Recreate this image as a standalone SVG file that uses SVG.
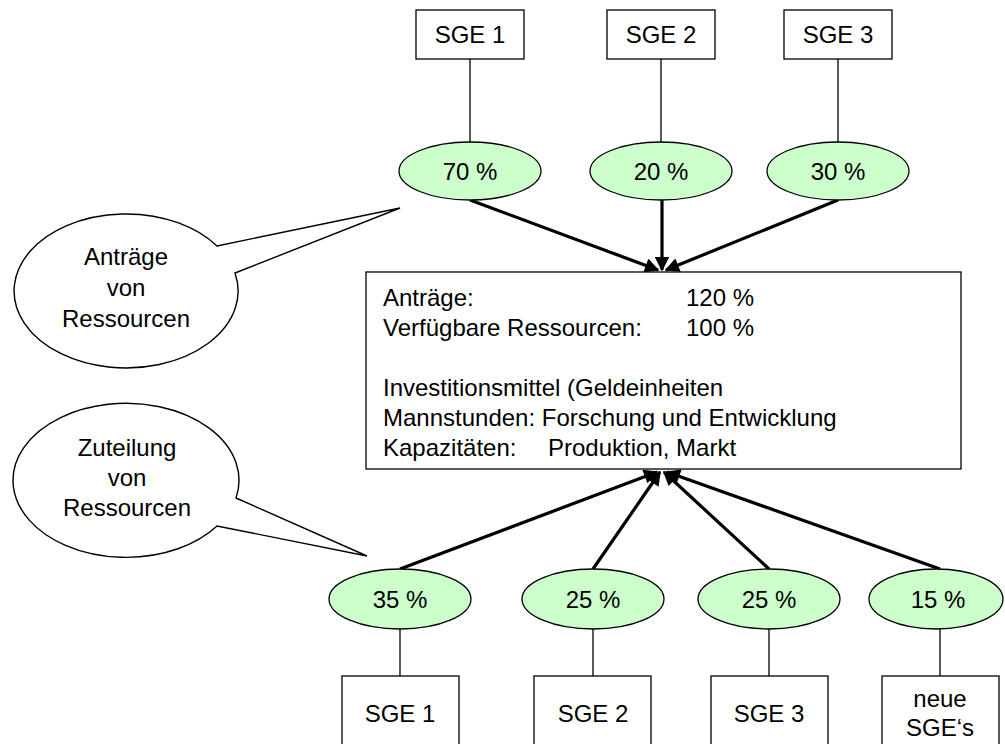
<svg xmlns="http://www.w3.org/2000/svg" width="1005" height="744" viewBox="0 0 1005 744">
<style>
text{font-family:"Liberation Sans",Arial,sans-serif;font-size:24px;fill:#000}
.c{text-anchor:middle}
.box{fill:#fff;stroke:#000;stroke-width:1.3}
.pct{fill:#ccffcc;stroke:#000;stroke-width:1.3}
.thin{stroke:#000;stroke-width:1.3;fill:none}
.arr{stroke:#000;stroke-width:3.2;fill:none;marker-end:url(#ah)}
.call{fill:#fff;stroke:#000;stroke-width:1.4}
</style>
<defs>
<marker id="ah" viewBox="0 0 10 10" refX="9" refY="5" markerWidth="5" markerHeight="4.5" orient="auto" markerUnits="strokeWidth">
<path d="M0,0 L10,5 L0,10 Z" fill="#000"/>
</marker>
</defs>
<rect width="1005" height="744" fill="#fff"/>
<g id="connectors">
<line class="thin" x1="470" y1="59" x2="470" y2="142"/>
<line class="thin" x1="661" y1="59" x2="661" y2="142"/>
<line class="thin" x1="838" y1="59" x2="838" y2="142"/>
<line class="arr" x1="470" y1="200" x2="658" y2="270"/>
<line class="arr" x1="662" y1="200" x2="662" y2="270"/>
<line class="arr" x1="838" y1="200" x2="666" y2="270"/>
<line class="arr" x1="400" y1="569" x2="657" y2="472"/>
<line class="arr" x1="593" y1="569" x2="660" y2="472"/>
<line class="arr" x1="769" y1="569" x2="664" y2="472"/>
<line class="arr" x1="940" y1="569" x2="667" y2="472"/>
<line class="thin" x1="400" y1="628" x2="400" y2="676"/>
<line class="thin" x1="593" y1="628" x2="593" y2="676"/>
<line class="thin" x1="769" y1="628" x2="769" y2="676"/>
<line class="thin" x1="940" y1="628" x2="940" y2="676"/>
</g>
<g id="top-sge1"><rect class="box" x="416" y="10" width="108" height="49"/><text class="c" x="470" y="43">SGE 1</text></g>
<g id="top-sge2"><rect class="box" x="607" y="10" width="108" height="49"/><text class="c" x="661" y="43">SGE 2</text></g>
<g id="top-sge3"><rect class="box" x="784" y="10" width="108" height="49"/><text class="c" x="838" y="43">SGE 3</text></g>
<g id="top-p70"><ellipse class="pct" cx="470" cy="171" rx="71" ry="29"/><text class="c" x="470" y="180">70 %</text></g>
<g id="top-p20"><ellipse class="pct" cx="661" cy="171" rx="71" ry="29"/><text class="c" x="661" y="180">20 %</text></g>
<g id="top-p30"><ellipse class="pct" cx="838" cy="171" rx="71" ry="29"/><text class="c" x="838" y="180">30 %</text></g>
<g id="main">
<rect class="box" x="366" y="272" width="595" height="197"/>
<text x="383" y="306">Anträge:<tspan x="686">120 %</tspan></text>
<text x="383" y="336">Verfügbare Ressourcen:<tspan x="686">100 %</tspan></text>
<text x="383" y="396">Investitionsmittel (Geldeinheiten</text>
<text x="383" y="426">Mannstunden: Forschung und Entwicklung</text>
<text x="383" y="456">Kapazitäten:<tspan x="548">Produktion, Markt</tspan></text>
</g>
<g id="callout-antraege">
<path class="call" d="M217,246 L400,208 L235,273 A112 77 0 1 1 217,246 Z"/>
<text class="c" x="126" y="265">Anträge</text>
<text class="c" x="126" y="296">von</text>
<text class="c" x="126" y="327">Ressourcen</text>
</g>
<g id="callout-zuteilung">
<path class="call" d="M236,498 L367,556 L217,526 A113 77 0 1 1 236,498 Z"/>
<text class="c" x="127" y="456">Zuteilung</text>
<text class="c" x="127" y="486">von</text>
<text class="c" x="127" y="516">Ressourcen</text>
</g>
<g id="bot-p35"><ellipse class="pct" cx="400" cy="599" rx="71" ry="30"/><text class="c" x="400" y="608">35 %</text></g>
<g id="bot-p25a"><ellipse class="pct" cx="593" cy="599" rx="71" ry="30"/><text class="c" x="593" y="608">25 %</text></g>
<g id="bot-p25b"><ellipse class="pct" cx="769" cy="599" rx="71" ry="30"/><text class="c" x="769" y="608">25 %</text></g>
<g id="bot-p15"><ellipse class="pct" cx="936" cy="599" rx="67" ry="30"/><text class="c" x="938" y="608">15 %</text></g>
<g id="bot-sge1"><rect class="box" x="342" y="676" width="117" height="80"/><text class="c" x="400" y="722">SGE 1</text></g>
<g id="bot-sge2"><rect class="box" x="534" y="676" width="117" height="80"/><text class="c" x="593" y="722">SGE 2</text></g>
<g id="bot-sge3"><rect class="box" x="711" y="676" width="117" height="80"/><text class="c" x="769" y="722">SGE 3</text></g>
<g id="bot-neue"><rect class="box" x="882" y="676" width="117" height="80"/><text class="c" x="940" y="707">neue</text><text class="c" x="940" y="736">SGE‘s</text></g>
</svg>
